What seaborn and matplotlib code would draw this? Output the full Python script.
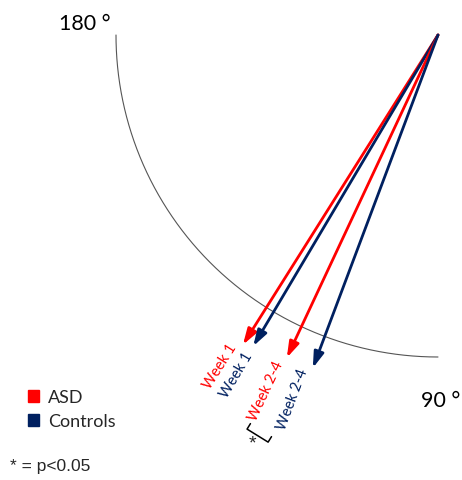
import numpy as np
import pandas as pd
import matplotlib
matplotlib.use("Agg")
import matplotlib.pyplot as plt
import seaborn as sns
from matplotlib.patches import Patch

# ---- data ----
groups = ["ASD", "Controls", "ASD", "Controls"]
week_labels = ["Week 1", "Week 1", "Week 2-4", "Week 2-4"]
angles_deg = [122.2, 120.7, 115.1, 110.6]       # 90 = down, 180 = left
lengths = [1.137, 1.124, 1.107, 1.105]           # relative to reference arc radius
palette = {"ASD": "#FF0000", "Controls": "#002060"}
arc_range = [90, 180]
axis_ticks = [90, 180]
axis_tick_labels = ["90 °", "180 °"]
signif_pair = [2, 3]                              # Week 2-4 ASD vs Controls

# label placement (style)
label_angle_offset = [1.1, 0.0, 0.7, 1.2]
label_radius = [1.233, 1.228, 1.228, 1.22]

sns.set_theme(style="white")
plt.rcParams["font.family"] = ["Lato", "DejaVu Sans"]

W, H = 462, 480
fig = plt.figure(figsize=(W / 100, H / 100), dpi=100)
ax = fig.add_axes([0, 0, 1, 1])
cx, cy, R = 438, 35, 322
ax.set_xlim(-cx / R, (W - cx) / R)
ax.set_ylim(-(H - cy) / R, cy / R)
ax.axis("off")


def pt(deg, r):
    t = np.deg2rad(deg)
    return np.array([r * np.cos(t), -r * np.sin(t)])


# reference arc
th = np.linspace(arc_range[0], arc_range[1], 300)
arc = pd.DataFrame({"x": np.cos(np.deg2rad(th)), "y": -np.sin(np.deg2rad(th))})
sns.lineplot(data=arc, x="x", y="y", sort=False, color="#555555", lw=0.8, ax=ax)

# arrows
for i in range(len(groups)):
    c = palette[groups[i]]
    tip = pt(angles_deg[i], lengths[i])
    ax.annotate("", xy=tip, xytext=(0, 0),
                arrowprops=dict(arrowstyle="-|>,head_length=0.95,head_width=0.3",
                                color=c, lw=2.0, shrinkA=0, shrinkB=0,
                                mutation_scale=10))
    rot = 180 - angles_deg[i]
    tp = pt(angles_deg[i] + label_angle_offset[i], label_radius[i])
    ax.text(tp[0], tp[1], week_labels[i], color=c, fontsize=10.5, rotation=rot,
            rotation_mode="anchor", ha="center", va="center")

# significance bracket
a1, a2 = angles_deg[signif_pair[0]], angles_deg[signif_pair[1]]
p1 = pt(a1 + 0.75, 1.36)
p2 = pt(a2 + 2.05, 1.37)
d = p2 - p1
n = np.array([-d[1], d[0]]) / np.hypot(*d)
if np.dot(n, -p1) < 0:
    n = -n
tick = 0.02
bx = [p1[0] + n[0] * tick, p1[0], p2[0], p2[0] + n[0] * tick]
by = [p1[1] + n[1] * tick, p1[1], p2[1], p2[1] + n[1] * tick]
ax.plot(bx, by, color="black", lw=1.1)
mid = (p1 + p2) / 2 - n * 0.03
ax.text(mid[0], mid[1], "*", fontsize=14, ha="center", va="center",
        family=["Liberation Sans"])

# angle labels
for deg, lab in zip(axis_ticks, axis_tick_labels):
    if deg == 180:
        ax.text(59 / W, 1 - 24 / H, lab, transform=fig.transFigure, fontsize=15.5,
                ha="left", va="center", color="black")
    else:
        ax.text(421 / W, 1 - 401 / H, lab, transform=fig.transFigure, fontsize=15.5,
                ha="left", va="center", color="black")

# legend
handles = [Patch(color=palette[g], label=g) for g in ["ASD", "Controls"]]
ax.legend(handles=handles, loc="upper left", bbox_to_anchor=(15 / W, 1 - 377 / H),
          bbox_transform=fig.transFigure, frameon=False, fontsize=13,
          handlelength=0.65, handleheight=0.65, handletextpad=0.5,
          labelspacing=0.45, borderpad=0.2)

fig.text(10 / W, 1 - 466 / H, "* = p<0.05", fontsize=12.5, ha="left", va="center",
         family=["Liberation Sans"])

fig.savefig("out.png", dpi=100)
